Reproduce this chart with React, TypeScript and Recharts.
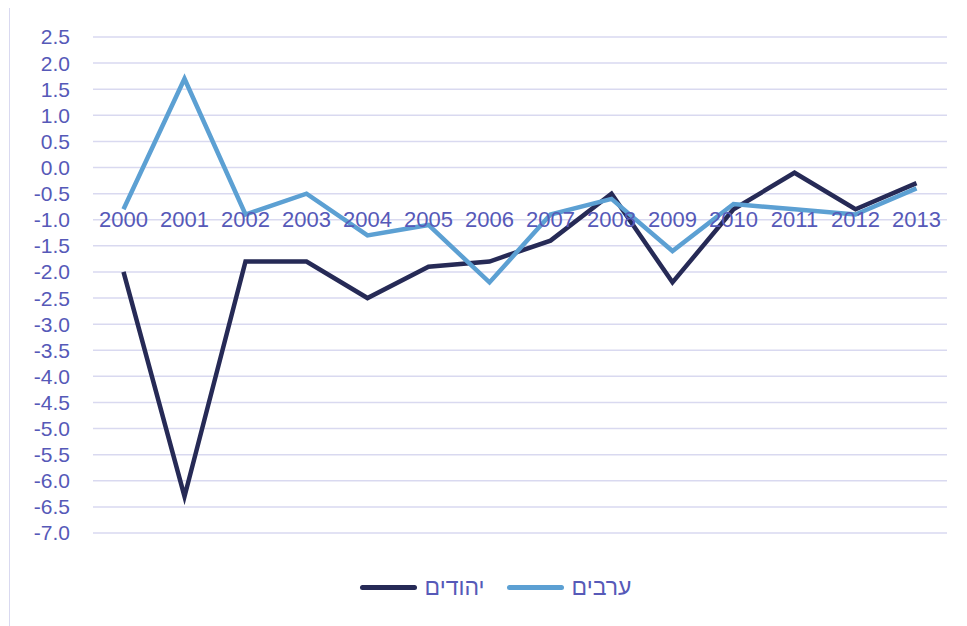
import React from "react";
import {
  LineChart,
  Line,
  XAxis,
  YAxis,
  CartesianGrid,
  Legend,
} from "recharts";

const YEARS = [
  "2000", "2001", "2002", "2003", "2004", "2005", "2006",
  "2007", "2008", "2009", "2010", "2011", "2012", "2013",
];
const JEWS = [-2.0, -6.3, -1.8, -1.8, -2.5, -1.9, -1.8, -1.4, -0.5, -2.2, -0.8, -0.1, -0.8, -0.3];
const ARABS = [-0.8, 1.7, -0.9, -0.5, -1.3, -1.1, -2.2, -0.9, -0.6, -1.6, -0.7, -0.8, -0.9, -0.4];
const Y_TICKS = [
  2.5, 2.0, 1.5, 1.0, 0.5, 0.0, -0.5, -1.0, -1.5, -2.0, -2.5,
  -3.0, -3.5, -4.0, -4.5, -5.0, -5.5, -6.0, -6.5, -7.0,
];

const SERIES = [
  { key: "jews", name: "יהודים", color: "#262a56" },
  { key: "arabs", name: "ערבים", color: "#5ca0d3" },
];

const Y_MIN = -7;
const Y_MAX = 2.5;
// category labels sit on the -1.0 line, like the original
const LABEL_AT = -1.0;

const CHART_W = 960;
const CHART_H = 620;
const MARGIN = { top: 30, right: 23, left: 0, bottom: 25 };
const X_AXIS_H = 39;
const LEGEND_H = 30;
const PLOT_H = CHART_H - MARGIN.top - MARGIN.bottom - X_AXIS_H - LEGEND_H;
const PLOT_W = CHART_W - MARGIN.left - MARGIN.right - 83;
const HALF_STEP = PLOT_W / YEARS.length / 2;

const TEXT = "#5659b8";
const FONT = "'Liberation Sans', Arial, sans-serif";

const data = YEARS.map((year, i) => ({
  year,
  jews: JEWS[i],
  arabs: ARABS[i],
}));

const YearTick = ({ x, payload }: { x?: number; payload?: { value: string } }) => {
  const y = MARGIN.top + ((Y_MAX - LABEL_AT) / (Y_MAX - Y_MIN)) * PLOT_H;
  return (
    <text
      x={x}
      y={y}
      textAnchor="middle"
      dominantBaseline="central"
      fill={TEXT}
      fontSize={22}
      fontFamily={FONT}
    >
      {payload?.value}
    </text>
  );
};

const LegendContent = () => (
  <div
    style={{
      display: "flex",
      justifyContent: "center",
      alignItems: "center",
      height: LEGEND_H,
      fontFamily: FONT,
      fontSize: 23,
      color: TEXT,
      paddingLeft: 34,
    }}
  >
    {SERIES.map((s) => (
      <div key={s.key} style={{ display: "flex", alignItems: "center", margin: "0 11px" }}>
        <span
          style={{
            display: "inline-block",
            width: 57,
            height: 5,
            borderRadius: 3,
            background: s.color,
            marginRight: 8,
          }}
        />
        <span>{s.name}</span>
      </div>
    ))}
  </div>
);

export default function App() {
  return (
    <div
      style={{
        width: 975,
        height: 640,
        margin: "-2px 0 0 1px",
        border: "1px solid #d9d9f0",
        background: "#fff",
      }}
    >
      <LineChart width={CHART_W} height={CHART_H} data={data} margin={MARGIN}>
        <CartesianGrid vertical={false} stroke="#d9d9f0" strokeWidth={1.5} />
        <XAxis
          dataKey="year"
          height={X_AXIS_H}
          axisLine={false}
          tickLine={false}
          interval={0}
          padding={{ left: HALF_STEP, right: HALF_STEP }}
          tick={<YearTick />}
        />
        <YAxis
          width={83}
          domain={[Y_MIN, Y_MAX]}
          ticks={Y_TICKS}
          interval={0}
          axisLine={false}
          tickLine={false}
          tickMargin={17}
          tickFormatter={(v: number) => v.toFixed(1)}
          tick={{ fill: TEXT, fontSize: 21, fontFamily: FONT }}
        />
        {SERIES.map((s) => (
          <Line
            key={s.key}
            dataKey={s.key}
            name={s.name}
            stroke={s.color}
            strokeWidth={4.5}
            dot={false}
            activeDot={false}
            isAnimationActive={false}
          />
        ))}
        <Legend verticalAlign="bottom" height={LEGEND_H} content={<LegendContent />} />
      </LineChart>
    </div>
  );
}
